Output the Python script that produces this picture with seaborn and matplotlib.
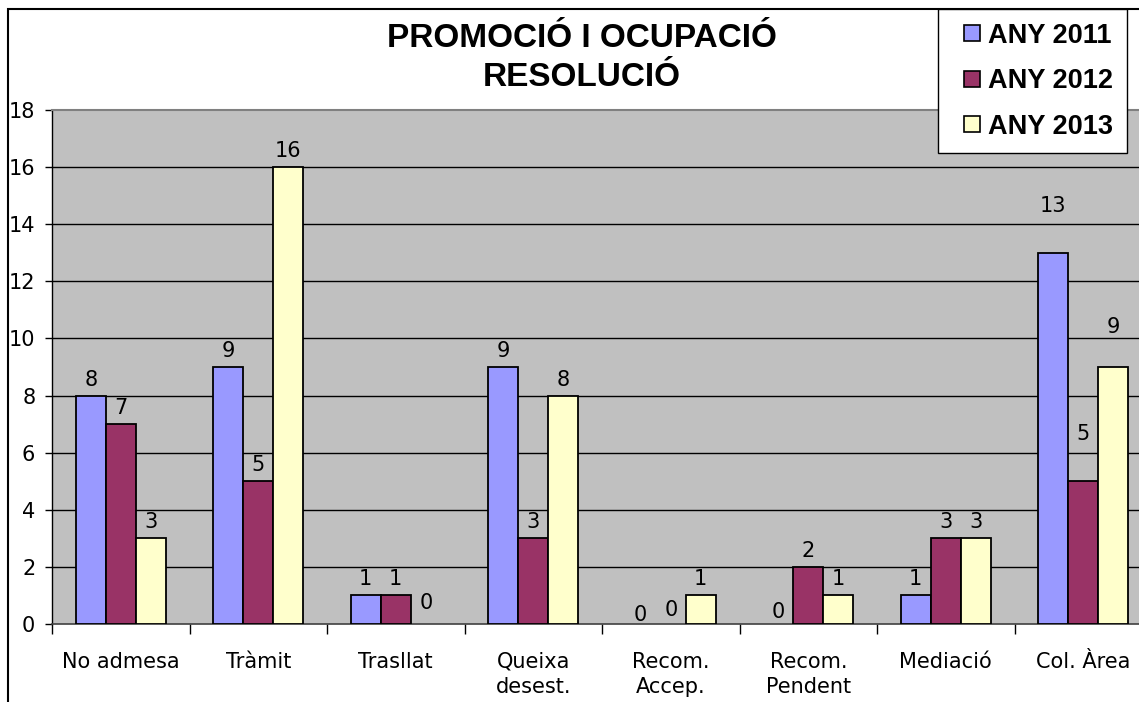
import matplotlib
matplotlib.use("Agg")
import matplotlib.pyplot as plt
import seaborn as sns
import pandas as pd
from matplotlib.patches import Rectangle
from matplotlib.lines import Line2D

categories = ["No admesa", "Tràmit", "Trasllat", "Queixa\ndesest.", "Recom.\nAccep.",
              "Recom.\nPendent", "Mediació", "Col. Àrea"]
years = ["ANY 2011", "ANY 2012", "ANY 2013"]
v2011 = [8, 9, 1, 9, 0, 0, 1, 13]
v2012 = [7, 5, 1, 3, 0, 2, 3, 5]
v2013 = [3, 16, 0, 8, 1, 1, 3, 9]
colors = ["#9999FF", "#993366", "#FFFFCC"]
title = "PROMOCIÓ I OCUPACIÓ\nRESOLUCIÓ"
yticks = list(range(0, 19, 2))

# extra vertical offsets (pixels) for a few value labels, as placed in the original
label_extra = {(0, 7): 31, (1, 7): 31, (2, 7): 24, (2, 2): 5,
               (0, 4): -7, (1, 4): -2, (0, 5): -4}

rows = []
for yr, vals in zip(years, [v2011, v2012, v2013]):
    for c, v in zip(categories, vals):
        rows.append({"cat": c, "year": yr, "val": v})
df = pd.DataFrame(rows)

W, H, DPI = 1139, 702, 100
fig = plt.figure(figsize=(W / DPI, H / DPI), dpi=DPI)
fig.patch.set_facecolor("white")

left, right, top, bottom = 52, 1152, 110, 624
ax = fig.add_axes([left / W, 1 - bottom / H, (right - left) / W, (bottom - top) / H])
ax.set_facecolor("#C0C0C0")

sns.barplot(data=df, x="cat", y="val", hue="year", order=categories, hue_order=years,
            palette=colors, width=0.655, edgecolor="black", linewidth=1.3,
            errorbar=None, legend=False, ax=ax, zorder=3, saturation=1)

ax.set_xlim(-0.5, len(categories) - 0.5)
ax.set_ylim(0, 18)
ax.set_yticks(yticks)
ax.set_xlabel("")
ax.set_ylabel("")

for y in yticks[1:-1]:
    ax.axhline(y, color="black", lw=1.0, zorder=1)

ax.spines["right"].set_visible(False)
ax.spines["top"].set_color("#808080")
ax.spines["top"].set_linewidth(1.5)
ax.spines["left"].set_color("black")
ax.spines["bottom"].set_color("#404040")
ax.spines["left"].set_linewidth(1.0)
ax.spines["bottom"].set_linewidth(1.2)

tfont = dict(family="DejaVu Sans", size=15)
ax.set_yticklabels([str(t) for t in yticks], **tfont)
ax.tick_params(axis="y", length=5, width=1, pad=7, direction="out")
ax.set_xticks(range(len(categories)))
ax.set_xticklabels(categories, linespacing=1.35, **tfont)
ax.tick_params(axis="x", which="major", length=0, pad=20)
ax.set_xticks([i - 0.5 for i in range(len(categories) + 1)], minor=True)
ax.tick_params(axis="x", which="minor", length=7, width=1, direction="out")

for hi, cont in enumerate(ax.containers):
    vals = [v2011, v2012, v2013][hi]
    for ci, bar in enumerate(cont):
        if vals[ci] == 0:
            bar.set_linewidth(0)
        xc = bar.get_x() + bar.get_width() / 2
        dy = 16 + label_extra.get((hi, ci), 0)
        ax.annotate(str(vals[ci]), (xc, vals[ci]), xytext=(0, dy * 72 / DPI),
                    textcoords="offset points", ha="center", va="center",
                    fontsize=15, family="DejaVu Sans", color="black",
                    annotation_clip=False, zorder=5)

fig.text(582 / W, 1 - 58 / H, title, ha="center", va="center", fontsize=24,
         fontweight="bold", family="Liberation Sans", linespacing=1.35)

# outer chart border (continues beyond the image on right and bottom)
fig.patches.append(Rectangle((8 / W, -0.1), 1.2, 1 - 9 / H + 0.1, transform=fig.transFigure,
                             fill=False, edgecolor="black", lw=1.5, zorder=0))

handles = [Line2D([], [], linestyle="none", marker="s", markersize=11.5,
                  markerfacecolor=c, markeredgecolor="black", markeredgewidth=1.2)
           for c in colors]
leg = fig.legend(handles, years, loc="upper right", bbox_to_anchor=(1127 / W, 1 - 9 / H),
                 prop=dict(family="Liberation Sans", weight="bold", size=19.5),
                 frameon=True, fancybox=False, edgecolor="black", framealpha=1,
                 handlelength=1.55, handletextpad=-0.18,
                 labelspacing=0.72, borderpad=0.5, borderaxespad=0)
leg.get_frame().set_linewidth(1.0)
leg.set_zorder(10)

fig.savefig("out.png", dpi=DPI)
